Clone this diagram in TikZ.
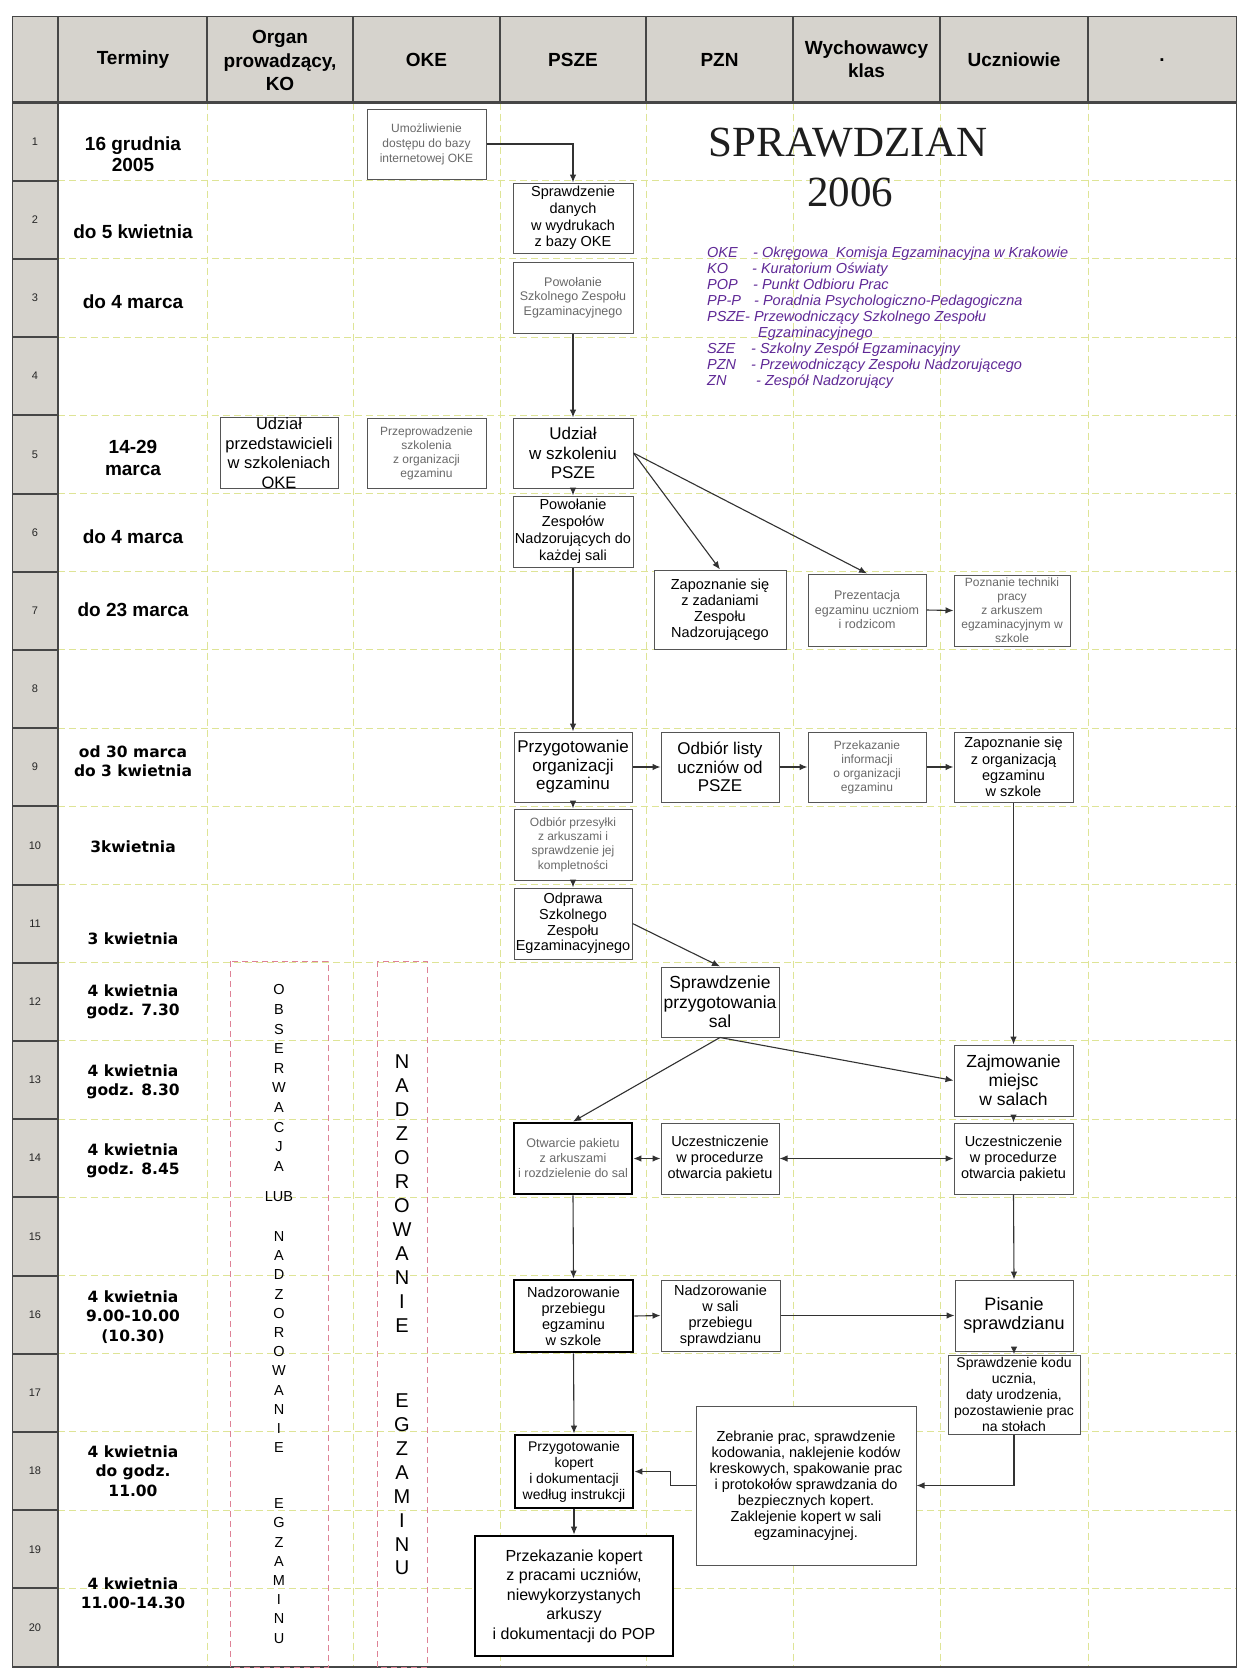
\documentclass[tikz,border=0pt]{standalone}
\usepackage{fontspec}
\setmainfont{Liberation Sans}
\newfontfamily\dejavu{DejaVu Sans}
\newfontfamily\tnr{Liberation Serif}
\usetikzlibrary{arrows.meta}
\definecolor{gridc}{RGB}{222,228,150}
\definecolor{hdrfill}{RGB}{214,211,205}
\definecolor{sepc}{RGB}{70,70,70}
\definecolor{boxc}{RGB}{85,85,85}
\definecolor{greytxt}{RGB}{105,105,105}
\definecolor{linec}{RGB}{50,50,50}
\definecolor{pinkc}{RGB}{222,130,150}
\definecolor{purp}{RGB}{95,40,150}
\definecolor{titc}{RGB}{30,30,30}
\newcommand\fz[2]{\fontsize{#1}{#2}\selectfont}
\tikzset{
  box/.style={draw=boxc, line width=1pt, fill=white, inner sep=0pt, align=center, text=black},
  lbox/.style={box, text=greytxt},
  tbox/.style={box, draw=black, line width=2.8pt},
  arr/.style={draw=linec, line width=1.1pt, -{Latex[length=8pt,width=6.5pt]}},
  darr/.style={draw=linec, line width=1.1pt, {Latex[length=8pt,width=6.5pt]}-{Latex[length=8pt,width=6.5pt]}},
  term/.style={font=\bfseries\fz{19}{21.5}, align=center, inner sep=0pt, text=black},
  termb/.style={font=\dejavu\bfseries\fz{15.5}{19.5}, align=center, inner sep=0pt, text=black},
  hdr/.style={font=\bfseries\fz{19}{23.5}, align=center, inner sep=0pt, text=black},
  rnum/.style={font=\fz{11}{13}, inner sep=0pt, text=black!85},
  lg/.style={font=\itshape\fz{14.5}{16}, text=purp, anchor=base west, inner sep=0pt},
  gridl/.style={draw=gridc, line width=1pt, dash pattern=on 7pt off 4pt},
  sepl/.style={draw=sepc, line width=2pt},
  pinkd/.style={draw=pinkc, line width=1pt, dash pattern=on 6pt off 4pt},
  vlet/.style={align=center, inner sep=0pt, text=black}
}
\begin{document}
\begin{tikzpicture}[x=1pt,y=-1pt]
\useasboundingbox (0,0) rectangle (1238,1670);
\fill[white] (0,0) rectangle (1238,1670);
% header and row-number backgrounds
\fill[hdrfill] (12,17) rectangle (1236,102.5);
\fill[hdrfill] (12,102.5) rectangle (58,1667);
% grid
\foreach \x in {207,353,500,646,793,940,1088} \draw[gridl] (\x,102.5) -- (\x,1667);
\foreach \k in {1,...,19} \draw[gridl] (58,{102.5+\k*78.2}) -- (1236,{102.5+\k*78.2});
\foreach \k in {1,...,19} \draw[sepl] (12,{102.5+\k*78.2}) -- (58,{102.5+\k*78.2});
\foreach \x in {207,353,500,646,793,940,1088} \draw[sepl] (\x,17) -- (\x,102.5);
\draw[sepl, line width=2.5pt] (12,102.5) -- (1236,102.5);
\draw[sepl, line width=2.5pt] (58,17) -- (58,1667);
\draw[sepl, line width=2.5pt] (12,1667) -- (1236,1667);
\draw[draw=sepc, line width=1pt] (12,17) rectangle (1236,1667);
% header labels
\node[hdr] (h1) at (133,60) {Terminy};
\node[hdr] (h2) at (280,60.5) {Organ\\prowadzący,\\KO};
\node[hdr] (h3) at (426.5,60) {OKE};
\node[hdr] (h4) at (573,60) {PSZE};
\node[hdr] (h5) at (719.5,60) {PZN};
\node[hdr] (h6) at (866.5,59) {Wychowawcy\\klas};
\node[hdr] (h7) at (1014,60) {Uczniowie};
\node[hdr] (h8) at (1162,60) {.};
% row numbers
\foreach \k in {1,...,20} \node[rnum] (rn\k) at (35,{102.5+(\k-0.5)*78.2}) {\k};
% dates
\node[term] (tm1) at (133,154) {16 grudnia\\2005};
\node[term] (tm2) at (133,232) {do 5 kwietnia};
\node[term] (tm3) at (133,302) {do 4 marca};
\node[term] (tm5) at (133,458) {14-29\\marca};
\node[term] (tm6) at (133,537) {do 4 marca};
\node[term] (tm7) at (133,610) {do 23 marca};
\node[termb] (tm9) at (133,761) {od 30 marca\\do 3 kwietnia};
\node[termb] (tm10) at (133,847) {3kwietnia};
\node[termb] (tm11) at (133,939) {3 kwietnia};
\node[termb] (tm12) at (133,1002) {4 kwietnia\\godz. 7.30};
\node[termb] (tm13) at (133,1082) {4 kwietnia\\godz. 8.30};
\node[termb] (tm14) at (133,1161) {4 kwietnia\\godz. 8.45};
\node[termb] (tm16) at (133,1317) {4 kwietnia\\9.00-10.00\\(10.30)};
\node[termb] (tm18) at (133,1471) {4 kwietnia\\do godz.\\11.00};
\node[termb] (tm19) at (133,1593) {4 kwietnia\\11.00-14.30};
% title and legend
\node[font=\tnr\fz{43}{50}, text=titc, inner sep=0pt] (title1) at (848,143) {SPRAWDZIAN};
\node[font=\tnr\fz{43}{50}, text=titc, inner sep=0pt] (title2) at (850,192) {2006};
\node[lg] (la1) at (707,257) {OKE};  \node[lg] (lb1) at (753,257) {- Okręgowa\ \ Komisja Egzaminacyjna w Krakowie};
\node[lg] (la2) at (707,273) {KO};   \node[lg] (lb2) at (752,273) {- Kuratorium Oświaty};
\node[lg] (la3) at (707,289) {POP};  \node[lg] (lb3) at (753,289) {- Punkt Odbioru Prac};
\node[lg] (la4) at (707,305) {PP-P}; \node[lg] (lb4) at (754,305) {- Poradnia Psychologiczno-Pedagogiczna};
\node[lg] (la5) at (707,321) {PSZE}; \node[lg] (lb5) at (745,321) {- Przewodniczący Szkolnego Zespołu};
\node[lg] (lb6) at (758,337) {Egzaminacyjnego};
\node[lg] (la7) at (707,353) {SZE};  \node[lg] (lb7) at (751,353) {- Szkolny Zespół Egzaminacyjny};
\node[lg] (la8) at (707,369) {PZN};  \node[lg] (lb8) at (751,369) {- Przewodniczący Zespołu Nadzorującego};
\node[lg] (la9) at (707,385) {ZN};   \node[lg] (lb9) at (756,385) {- Zespół Nadzorujący};
% vertical observation columns
\draw[pinkd] (230,961) rectangle (328,1667);
\draw[pinkd] (377,961) rectangle (427,1667);
\node[vlet, font=\fz{14.5}{19.6}] (v1a) at (279,1078) {O\\B\\S\\E\\R\\W\\A\\C\\J\\A};
\node[vlet, font=\fz{14.5}{20}] (v1b) at (279,1197) {LUB};
\node[vlet, font=\fz{14.5}{19.2}] (v1c) at (279,1342) {N\\A\\D\\Z\\O\\R\\O\\W\\A\\N\\I\\E};
\node[vlet, font=\fz{14.5}{19.2}] (v1d) at (279,1571) {E\\G\\Z\\A\\M\\I\\N\\U};
\node[vlet, font=\fz{20}{24}] (v2a) at (402,1194) {N\\A\\D\\Z\\O\\R\\O\\W\\A\\N\\I\\E};
\node[vlet, font=\fz{20}{23.9}] (v2b) at (402,1484.5) {E\\G\\Z\\A\\M\\I\\N\\U};
% boxes
\node[lbox, font=\fz{12}{15}, minimum width=119, minimum height=70] (A) at (426.5,144) {Umożliwienie\\dostępu do bazy\\internetowej OKE};
\node[box, font=\fz{14.5}{16.7}, minimum width=120, minimum height=70] (B) at (573,218) {Sprawdzenie\\danych\\w wydrukach\\z bazy OKE};
\node[lbox, font=\fz{12.5}{14.5}, minimum width=120, minimum height=71] (C) at (573,297.5) {Powołanie\\Szkolnego Zespołu\\Egzaminacyjnego};
\node[box, font=\fz{16.5}{19.5}, minimum width=118, minimum height=70] (E) at (279,453) {Udział\\przedstawicieli\\w szkoleniach\\OKE};
\node[lbox, font=\fz{12}{14}, minimum width=119, minimum height=70] (F) at (426.5,453) {Przeprowadzenie\\szkolenia\\z organizacji\\egzaminu};
\node[box, font=\fz{17}{19.5}, minimum width=120, minimum height=70] (D) at (573,453) {Udział\\w szkoleniu\\PSZE};
\node[box, font=\fz{14.5}{17}, minimum width=120, minimum height=71] (G) at (573,531.5) {Powołanie\\Zespołów\\Nadzorujących do\\każdej sali};
\node[box, font=\fz{14.5}{16}, minimum width=132, minimum height=79] (H) at (720,609.5) {Zapoznanie się\\z zadaniami\\Zespołu\\Nadzorującego};
\node[lbox, font=\fz{12.5}{14.5}, minimum width=118, minimum height=72] (I) at (867,610) {Prezentacja\\egzaminu uczniom\\i rodzicom};
\node[lbox, font=\fz{12}{14}, minimum width=116, minimum height=71] (J) at (1012,610.5) {Poznanie techniki\\pracy\\z arkuszem\\egzaminacyjnym w\\szkole};
\node[box, font=\fz{17}{18.5}, minimum width=118, minimum height=70] (K) at (573,767) {Przygotowanie\\organizacji\\egzaminu};
\node[box, font=\fz{17}{18.5}, minimum width=118, minimum height=70] (M) at (720,767) {Odbiór listy\\uczniów od\\PSZE};
\node[lbox, font=\fz{12}{14}, minimum width=118, minimum height=70] (N) at (867,767) {Przekazanie\\informacji\\o organizacji\\egzaminu};
\node[box, font=\fz{14.5}{16.3}, minimum width=119, minimum height=70] (O) at (1013.5,767) {Zapoznanie się\\z organizacją\\egzaminu\\w szkole};
\node[lbox, font=\fz{12}{14.3}, minimum width=118, minimum height=71] (L) at (573,844.5) {Odbiór przesyłki\\z arkuszami i\\sprawdzenie jej\\kompletności};
\node[box, font=\fz{14.5}{15.7}, minimum width=118, minimum height=71] (P) at (573,923.5) {Odprawa\\Szkolnego\\Zespołu\\Egzaminacyjnego};
\node[box, font=\fz{17.5}{19.5}, minimum width=118, minimum height=70] (Q) at (720,1002) {Sprawdzenie\\przygotowania\\sal};
\node[box, font=\fz{17.5}{19}, minimum width=119, minimum height=71] (S) at (1013.5,1080.5) {Zajmowanie\\miejsc\\w salach};
\node[tbox, text=greytxt, font=\fz{12.5}{15}, minimum width=118, minimum height=71] (R) at (573,1158.5) {Otwarcie pakietu\\z arkuszami\\i rozdzielenie do sal};
\node[box, font=\fz{14.5}{16}, minimum width=118, minimum height=71] (T) at (720,1158.5) {Uczestniczenie\\w procedurze\\otwarcia pakietu};
\node[box, font=\fz{14.5}{16}, minimum width=119, minimum height=71] (U) at (1013.5,1158.5) {Uczestniczenie\\w procedurze\\otwarcia pakietu};
\node[tbox, font=\fz{14.5}{16}, minimum width=119, minimum height=72] (V) at (573.5,1316) {Nadzorowanie\\przebiegu\\egzaminu\\w szkole};
\node[box, font=\fz{14.5}{16}, minimum width=119, minimum height=71] (W) at (720.5,1315.5) {Nadzorowanie\\w sali\\przebiegu\\sprawdzianu};
\node[box, font=\fz{18}{19}, minimum width=118, minimum height=71] (X) at (1014,1315.5) {Pisanie\\sprawdzianu};
\node[box, font=\fz{14}{16}, minimum width=132, minimum height=79] (Y) at (1014,1394.5) {Sprawdzenie kodu\\ucznia,\\daty urodzenia,\\pozostawienie prac\\na stołach};
\node[tbox, font=\fz{14}{16}, minimum width=118, minimum height=73] (Z) at (574,1471.5) {Przygotowanie\\kopert\\i dokumentacji\\według instrukcji};
\node[box, font=\fz{14.5}{16}, minimum width=220, minimum height=159] (AA) at (806,1485.5) {Zebranie prac, sprawdzenie\\kodowania, naklejenie kodów\\kreskowych, spakowanie prac\\i protokołów sprawdzania do\\bezpiecznych kopert.\\Zaklejenie kopert w sali\\egzaminacyjnej.};
\node[tbox, font=\fz{16}{19.5}, minimum width=198, minimum height=120] (BB) at (574,1596) {Przekazanie kopert\\z pracami uczniów,\\niewykorzystanych\\arkuszy\\i dokumentacji do POP};
% connectors
\draw[arr] (A.east) -| (B.north);
\draw[arr] (C.south) -- (D.north);
\draw[arr] (D.south) -- (G.north);
\draw[arr] (D.east) -- (H.north);
\draw[arr] (D.east) -- (I.north);
\draw[arr] (I.east) -- (J.west);
\draw[arr] (G.south) -- (K.north);
\draw[arr] (K.east) -- (M.west);
\draw[arr] (M.east) -- (N.west);
\draw[arr] (N.east) -- (O.west);
\draw[arr] (K.south) -- (L.north);
\draw[arr] (L.south) -- (P.north);
\draw[arr] (O.south) -- (S.north);
\draw[arr] (P.east) -- (Q.north);
\draw[arr] (Q.south) -- (R.north);
\draw[arr] (Q.south) -- (S.west);
\draw[arr] (S.south) -- (U.north);
\draw[darr] (R.east) -- (T.west);
\draw[darr] (T.east) -- (U.west);
\draw[arr] (R.south) -- (V.north);
\draw[arr] (U.south) -- (X.north);
\draw[arr] (V.east) -- (W.west);
\draw[arr] (W.east) -- (X.west);
\draw[arr] (X.south) -- (Y.north);
\draw[arr] (V.south) -- (Z.north);
\draw[arr] (Y.south) |- (AA.east);
\draw[arr] (AA.west) -- ++(-25,0) |- (Z.east);
\draw[arr] (Z.south) -- (BB.north);
\end{tikzpicture}
\end{document}
